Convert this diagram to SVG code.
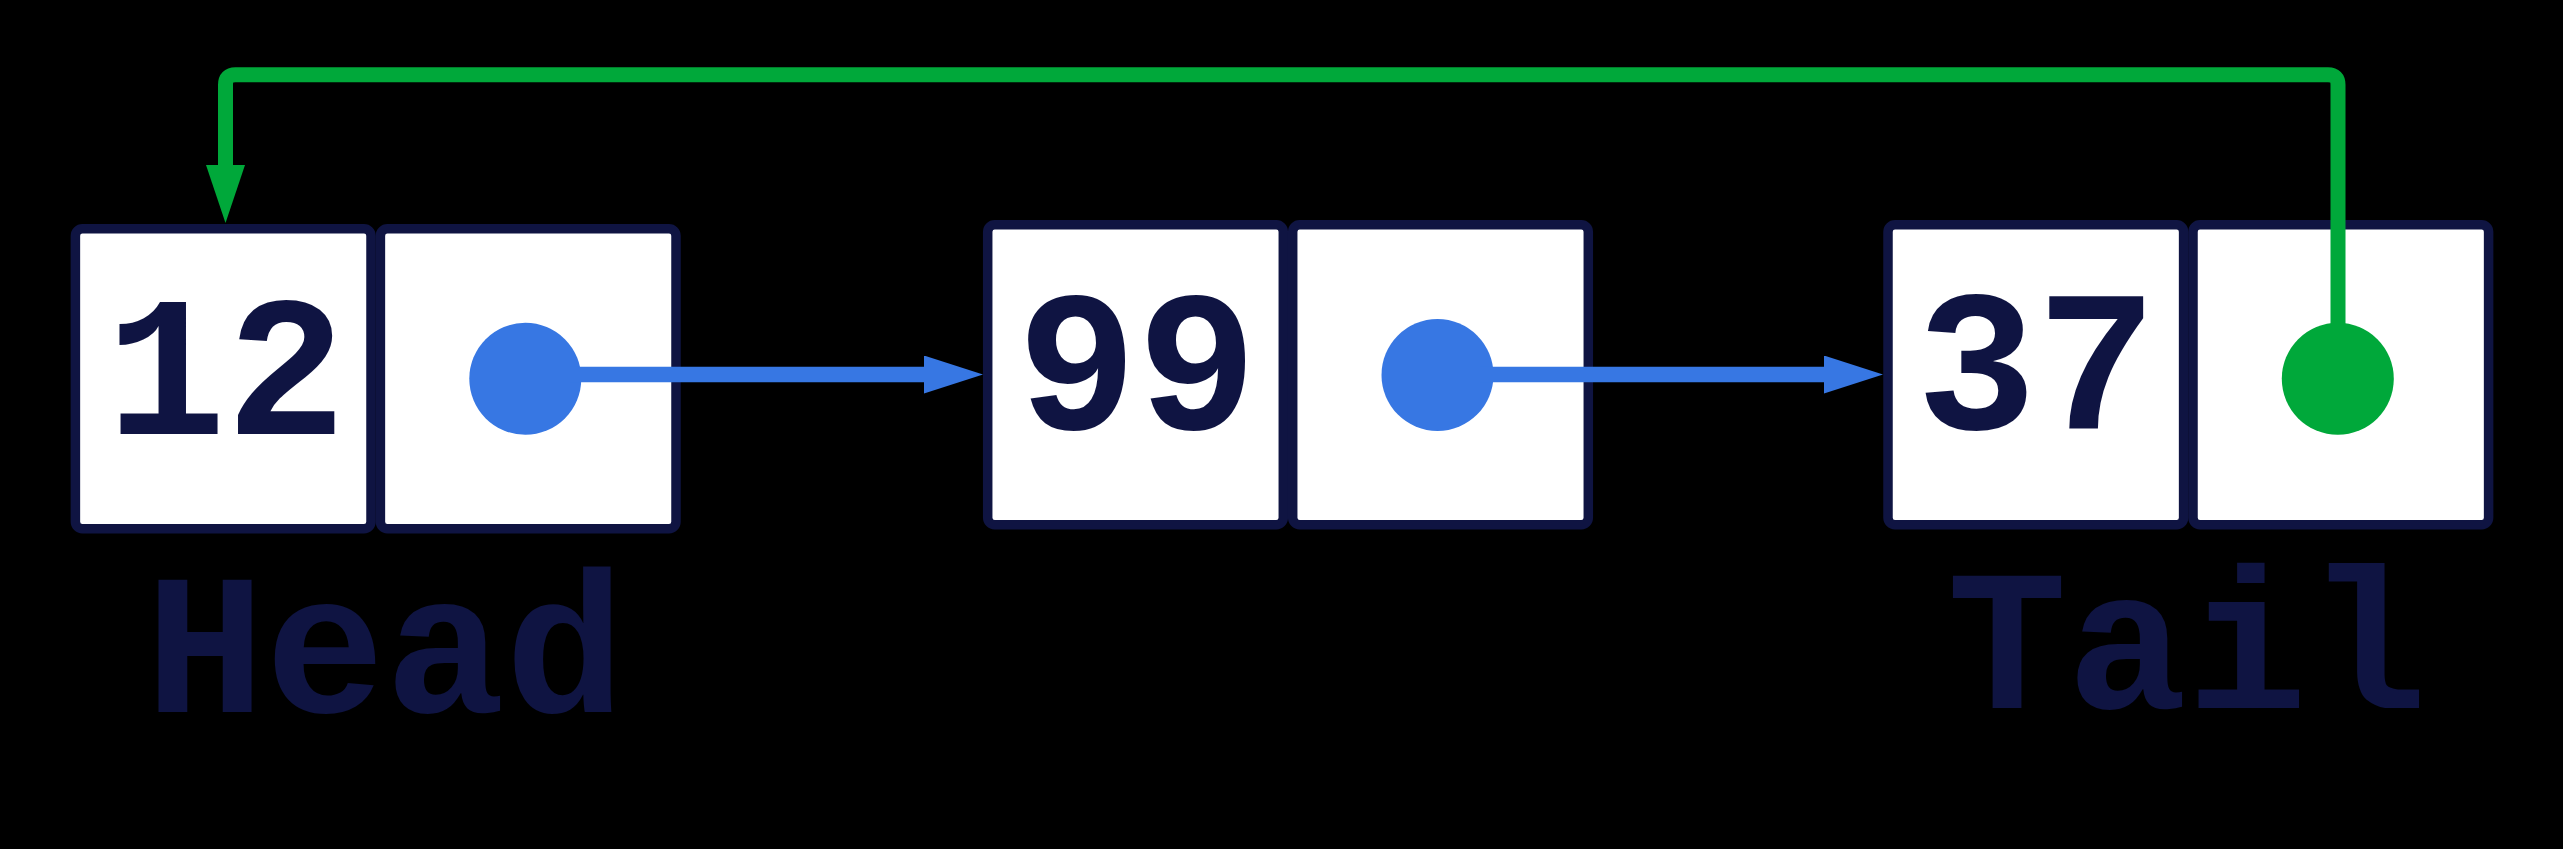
<svg xmlns="http://www.w3.org/2000/svg" width="2563" height="849" viewBox="0 0 2563 849">
  <style>
    .cell { fill: #ffffff; stroke: #0f1442; stroke-width: 9.5; }
    .val { font-family: "Liberation Mono", "DejaVu Sans Mono", monospace; font-weight: bold; font-size: 200px; fill: #0f1442; text-anchor: middle; }
    .lbl { font-family: "Liberation Mono", "DejaVu Sans Mono", monospace; font-weight: bold; font-size: 200px; fill: #0f1442; }
    .dot-blue { fill: #3777e3; }
    .dot-green { fill: #00a83a; }
    .link-blue { fill: none; stroke: #3777e3; stroke-width: 15.5; }
    .link-green { fill: none; stroke: #00a83a; stroke-width: 15; }
  </style>
  <defs>
    <marker id="arrow-blue" markerUnits="userSpaceOnUse" markerWidth="60" markerHeight="40" refX="0" refY="19" orient="auto">
      <path d="M0,0 L59,19 L0,38 Z" fill="#3777e3"/>
    </marker>
    <marker id="arrow-green" markerUnits="userSpaceOnUse" markerWidth="60" markerHeight="40" refX="0" refY="19.5" orient="auto">
      <path d="M0,0 L58,19.5 L0,39 Z" fill="#00a83a"/>
    </marker>
  </defs>
  <rect x="0" y="0" width="2563" height="849" fill="#000000"/>

  <g id="node-head">
    <rect class="cell" x="75.4" y="228.7" width="295.6" height="300" rx="7" ry="7"/>
    <rect class="cell" x="380.4" y="228.7" width="295.6" height="300" rx="7" ry="7"/>
    <text class="val" x="226" y="434">12</text>
    <circle class="dot-blue" cx="525.3" cy="378.8" r="56"/>
    <text class="lbl" x="145" y="711.7">Head</text>
  </g>

  <g id="node-middle">
    <rect class="cell" x="987.7" y="224.7" width="295.6" height="300" rx="7" ry="7"/>
    <rect class="cell" x="1292.7" y="224.7" width="295.6" height="300" rx="7" ry="7"/>
    <text class="val" x="1137" y="429">99</text>
    <circle class="dot-blue" cx="1437.5" cy="375" r="56"/>
  </g>

  <g id="node-tail">
    <rect class="cell" x="1888" y="224.7" width="295.6" height="300" rx="7" ry="7"/>
    <rect class="cell" x="2193" y="224.7" width="295.6" height="300" rx="7" ry="7"/>
    <text class="val" x="2036.5" y="429">37</text>
    <circle class="dot-green" cx="2337.8" cy="378.8" r="56"/>
    <text class="lbl" x="2187" y="707.7" text-anchor="middle">Tail</text>
  </g>

  <g id="connectors">
    <path class="link-blue" d="M570,374.5 L924,374.5" marker-end="url(#arrow-blue)"/>
    <path class="link-blue" d="M1480,374.5 L1824,374.5" marker-end="url(#arrow-blue)"/>
    <path class="link-green" d="M2338,340 L2338,84.7 Q2338,74.7 2328,74.7 L235.5,74.7 Q225.5,74.7 225.5,84.7 L225.5,165" marker-end="url(#arrow-green)"/>
  </g>
</svg>
